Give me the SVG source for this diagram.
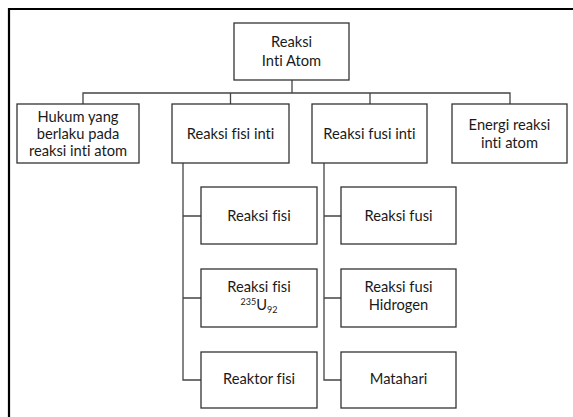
<svg xmlns="http://www.w3.org/2000/svg" width="573" height="417" viewBox="0 0 573 417">
<style>
.box{fill:#fff;stroke:#333;stroke-width:1.3}
.ln{fill:none;stroke:#444;stroke-width:1.3}
text{font-family:Lato,"Open Sans","Liberation Sans",sans-serif;font-size:14.7px;fill:#1a1a1a;text-anchor:middle;font-variant-ligatures:none}
</style>
<rect width="573" height="417" fill="#fff"/>
<path d="M9 417V9H573" fill="none" stroke="#000" stroke-width="2.2"/>
<g id="connectors">
<path class="ln" d="M292 80V93" stroke-width="2.5"/>
<path class="ln" d="M83 104V93H510V104M230.5 93V104M370 93V104"/>
<path class="ln" d="M183 163V380H201M183 216H201M183 298H201"/>
<path class="ln" d="M324 163V380H341M324 216H341M324 298H341"/>
</g>
<g id="root"><rect class="box" x="234" y="23" width="115" height="57"/><text x="291.5" y="47">Reaksi</text><text x="291.5" y="66">Inti Atom</text></g>
<g id="hukum"><rect class="box" x="17" y="104" width="122" height="59"/><text x="78" y="122">Hukum yang</text><text x="78" y="139">berlaku pada</text><text x="78" y="156">reaksi inti atom</text></g>
<g id="fisi-inti"><rect class="box" x="172" y="104" width="117" height="59"/><text x="230.5" y="139">Reaksi fisi inti</text></g>
<g id="fusi-inti"><rect class="box" x="312" y="104" width="115" height="59"/><text x="369.5" y="139">Reaksi fusi inti</text></g>
<g id="energi"><rect class="box" x="452" y="104" width="115" height="59"/><text x="509.5" y="130">Energi reaksi</text><text x="509.5" y="148">inti atom</text></g>
<g id="fisi"><rect class="box" x="201" y="187" width="116" height="57"/><text x="259" y="221">Reaksi fisi</text></g>
<g id="fisi-u"><rect class="box" x="201" y="269" width="116" height="58"/><text x="259" y="292">Reaksi fisi</text><text x="259" y="310"><tspan font-size="9" dy="-5">235</tspan><tspan dy="5">U</tspan><tspan font-size="9" dy="3">92</tspan></text></g>
<g id="reaktor"><rect class="box" x="201" y="352" width="116" height="56"/><text x="259" y="384">Reaktor fisi</text></g>
<g id="fusi"><rect class="box" x="341" y="187" width="115" height="57"/><text x="398.5" y="221">Reaksi fusi</text></g>
<g id="fusi-h"><rect class="box" x="341" y="269" width="115" height="58"/><text x="398.5" y="292">Reaksi fusi</text><text x="398.5" y="310">Hidrogen</text></g>
<g id="matahari"><rect class="box" x="341" y="352" width="115" height="56"/><text x="398.5" y="384">Matahari</text></g>
</svg>
